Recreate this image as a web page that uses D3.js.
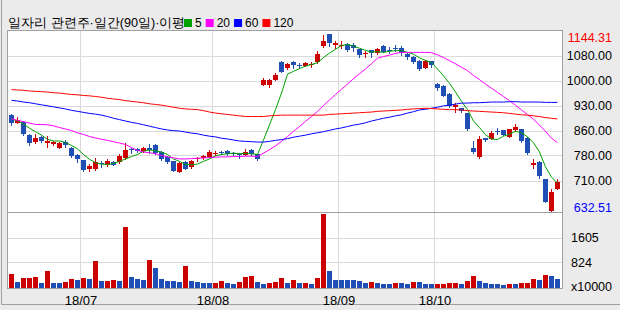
<!DOCTYPE html>
<html>
<head>
<meta charset="utf-8">
<script src="https://cdn.jsdelivr.net/npm/d3@7"></script>
<style>
  html, body { margin: 0; padding: 0; background: #ebebeb; }
  svg { display: block; }
  text { font-family: "Liberation Sans", Arial, sans-serif; }
</style>
</head>
<body>
<div id="chart"></div>
<script>
// daily OHLC, 92 sessions (18/06 .. 18/10)
const open = [909,887,890,851,829,846,829,824,815,832, 815,793,779,752,754,771,764,774,772,784,
  810,811,803,813,822,803,788,776,745,774, 759,781,784,788,798,801,805,800,797,793,
  808,796,996,996,1011,1064,1045,1062,1055,1052, 1052,1061,1110,1144,1110,1110,1115,1112,1101,1086,
  1098,1088,1109,1099,1105,1103,1085,1078,1066,1047, 1066,999,993,970,932,929,914,813,787,842,
  842,863,866,846,866,869,844,764,774,724, 633,697];
const high = [912,905,892,853,855,848,848,835,831,837, 817,795,780,767,784,775,781,776,795,827,
  815,814,817,824,825,805,790,777,773,777, 780,788,793,808,806,806,807,803,798,811,
  811,797,1016,1013,1032,1066,1059,1066,1061,1064, 1064,1095,1140,1144.31,1125,1124,1117,1119,1102,1095,
  1099,1105,1111,1107,1112,1109,1088,1080,1068,1069, 1067,1001,995,972,943,931,916,835,848,844,
  864,871,867,870,882,870,846,781,776,725, 694,724];
const low = [880,886,852,822,828,831,817,822,814,817, 788,774,747,747,751,759,761,764,769,781,
  798,802,802,798,796,780,769,746,744,752, 757,776,782,787,793,796,793,793,784,792,
  793,779,996,991,1010,1034,1044,1047,1047,1051, 1049,1060,1107,1110,1103,1103,1096,1095,1078,1078,
  1078,1086,1091,1089,1096,1083,1073,1061,1040,1045, 1049,982,964,932,919,917,866,798,786,834,
  841,854,850,845,864,830,796,755,726,657, 632.51,695];
const close = [886,895,856,827,842,835,835,830,829,822, 791,781,750,761,774,767,777,766,790,808,
  806,805,813,808,798,784,774,748,771,755, 777,784,790,803,800,799,795,798,795,803,
  796,782,1011,1011,1025,1035,1056,1052,1053,1061, 1056,1085,1124,1117,1117,1112,1098,1103,1083,1090,
  1088,1101,1093,1097,1103,1088,1076,1064,1043,1067, 1054,987,965,934,938,919,868,801,839,835,
  858,859,851,868,875,835,800,769,732,658, 687,716];

// volume, x10000 shares
const volume = [446,191,318,320,350,159,541,159,155,191, 287,255,318,287,860,223,225,255,223,1943,
  350,287,255,892,637,287,223,220,191,700, 223,191,159,155,160,223,159,127,191,350,
  382,191,127,159,191,318,159,255,159,160, 127,318,2357,541,255,250,248,245,223,159,
  191,159,127,125,159,157,127,191,189,127, 125,127,129,159,161,127,223,382,223,159,
  127,125,96,127,125,159,161,287,255,414, 382,287];

// moving averages as drawn
const ma5 = [897,893,883,871,861,851,839,834,834,830, 821,811,795,781,771,767,766,769,775,782,
  789,795,804,808,806,802,795,782,775,766, 765,767,775,782,791,795,797,799,797,798,
  797,795,837,881,925,973,1028,1036,1044,1051, 1056,1061,1076,1089,1100,1111,1114,1109,1103,1097,
  1092,1093,1091,1094,1096,1096,1091,1086,1075,1068, 1061,1043,1023,1001,976,949,925,892,873,852,
  840,838,848,854,862,858,846,829,802,759, 729,712];
const ma20 = [898,894,890,886,882,882,881,878,873,869, 864,858,853,847,843,839,836,832,828,824,
  815,807,802,800,797,792,788,785,782,782, 783,784,785,786,787,788,788,789,789,790,
  790,789,799,809,820,833,847,862,876,891, 905,920,937,953,969,984,999,1015,1029,1043,
  1058,1074,1079,1083,1088,1091,1091,1091,1091,1091, 1090,1084,1076,1067,1058,1048,1038,1024,1012,999,
  987,975,963,951,938,924,911,897,880,862, 842,829];
const ma60 = [952,950,947,945,942,939,936,933,930,927, 923,920,917,914,912,909,905,900,896,892,
  888,885,881,877,873,869,866,864,863,860, 857,855,851,848,846,842,840,837,834,833,
  832,831,831,833,836,838,841,845,848,851, 855,858,861,865,869,872,876,880,883,887,
  892,896,900,903,907,910,915,919,924,926, 929,932,936,938,941,944,944,945,945,946,
  947,947,947,948,948,947,947,947,947,946, 946,946];
const ma120 = [983,982,981,979,978,977,976,974,973,971, 969,968,966,965,963,961,958,956,954,951,
  949,947,945,942,940,938,935,932,929,927, 926,925,922,918,915,913,911,909,907,905,
  905,905,905,907,908,909,909,909,909,909, 909,909,909,911,912,913,914,915,916,917,
  918,920,921,922,923,924,926,927,928,929, 928,927,926,925,925,924,922,921,920,919,
  918,917,916,914,912,910,909,907,905,902, 900,898];

const maLabels = ['5', '20', '60', '120'];
const monthIndex = [12, 34, 55, 71];
const monthLabels = ['18/07', '18/08', '18/09', '18/10'];
const priceGrid = [1081.4, 1008.9, 936.4, 863.9, 792, 719.4];
const priceGridLabels = ['1080.00', '1000.00', '930.00', '860.00', '780.00', '710.00'];
const volumeGrid = [1605, 824];
const volumeGridLabels = ['1605', '824'];
const titleText = '일자리 관련주·일간(90일)·이평';

const UP = '#cc0000', DOWN = '#1f4fb5';
const maColors = ['#00a000', '#ff00ff', '#0000ff', '#ff0000'];
const frame = { left: 7, right: 562, top: 30, split: 212, bottom: 288 };

const svg = d3.select('#chart').append('svg')
  .attr('width', 620)
  .attr('height', 310);

const x = d3.scaleLinear().domain([0, close.length - 1]).range([11.5, 557.5]);
const y = d3.scaleLinear().domain([632.51, 1144.31]).range([210.5, 34]);
const yv = d3.scaleLinear().domain([0, 2420]).range([288, 212]);
const px = v => Math.round(v) + 0.5;

// outer frame
svg.append('path')
  .attr('d', 'M1.5,0V304.5H620')
  .attr('fill', 'none')
  .attr('stroke', '#a0a0a0');

// plot panel
svg.append('rect')
  .attr('x', frame.left + 0.5).attr('y', frame.top + 0.5)
  .attr('width', frame.right - frame.left).attr('height', frame.bottom - frame.top)
  .attr('fill', '#fff');

const grid = svg.append('g').attr('stroke', '#dadada').attr('shape-rendering', 'crispEdges');
grid.selectAll('line.py').data(priceGrid).join('line')
  .attr('x1', frame.left).attr('x2', frame.right)
  .attr('y1', d => px(y(d))).attr('y2', d => px(y(d)));
grid.selectAll('line.vy').data(volumeGrid).join('line')
  .attr('x1', frame.left).attr('x2', frame.right)
  .attr('y1', d => px(yv(d))).attr('y2', d => px(yv(d)));
grid.selectAll('line.mx').data(monthIndex).join('line')
  .attr('x1', d => px(x(d) - 3.5)).attr('x2', d => px(x(d) - 3.5))
  .attr('y1', frame.top).attr('y2', frame.bottom);

svg.append('rect')
  .attr('x', frame.left + 0.5).attr('y', frame.top + 0.5)
  .attr('width', frame.right - frame.left).attr('height', frame.bottom - frame.top)
  .attr('fill', 'none').attr('stroke', '#a0a0a0')
  .attr('shape-rendering', 'crispEdges');
svg.append('line')
  .attr('x1', frame.left).attr('x2', frame.right)
  .attr('y1', frame.split + 0.5).attr('y2', frame.split + 0.5)
  .attr('stroke', '#a0a0a0').attr('shape-rendering', 'crispEdges');

// volume bars, red when volume rises from the day before
svg.append('g').attr('shape-rendering', 'crispEdges')
  .selectAll('rect').data(volume).join('rect')
  .attr('x', (d, i) => x(i) - 2.5)
  .attr('width', 5)
  .attr('y', d => Math.round(yv(d)))
  .attr('height', d => frame.bottom - Math.round(yv(d)))
  .attr('fill', (d, i) => i === 0 || d > volume[i - 1] ? UP : DOWN);

// candles
const idx = d3.range(close.length);
const candle = svg.append('g').attr('shape-rendering', 'crispEdges')
  .selectAll('g').data(idx).join('g')
  .attr('fill', i => close[i] >= open[i] ? UP : DOWN)
  .attr('stroke', i => close[i] >= open[i] ? UP : DOWN);

candle.append('line')
  .attr('x1', i => x(i)).attr('x2', i => x(i))
  .attr('y1', i => Math.round(y(high[i]))).attr('y2', i => Math.round(y(low[i])) + 1);

candle.append('rect')
  .attr('stroke', 'none')
  .attr('x', i => x(i) - 2.5)
  .attr('width', 5)
  .attr('y', i => Math.round(y(Math.max(open[i], close[i]))))
  .attr('height', i => Math.max(1, Math.round(Math.abs(y(open[i]) - y(close[i])))));

// moving average lines
const line = d3.line().x((d, i) => x(i)).y(d => y(d));
[ma5, ma20, ma60, ma120].forEach((s, k) => {
  svg.append('path')
    .datum(s)
    .attr('d', line)
    .attr('fill', 'none')
    .attr('stroke', maColors[k])
    .attr('stroke-width', 1);
});

// right axis labels
const axis = svg.append('g').attr('font-size', 12.5).attr('fill', '#000');
axis.selectAll('text.p').data(priceGrid).join('text')
  .attr('x', 612).attr('y', d => y(d)).attr('dy', '0.36em')
  .attr('text-anchor', 'end')
  .text((d, i) => priceGridLabels[i]);
axis.append('text')
  .attr('x', 612).attr('y', y(d3.max(high)) + 3).attr('dy', '0.36em')
  .attr('text-anchor', 'end').attr('fill', '#ff0000')
  .text(d3.max(high).toFixed(2));
axis.append('text')
  .attr('x', 612).attr('y', y(d3.min(low)) - 3).attr('dy', '0.36em')
  .attr('text-anchor', 'end').attr('fill', '#0000ff')
  .text(d3.min(low).toFixed(2));
axis.selectAll('text.v').data(volumeGrid).join('text')
  .attr('x', 571).attr('y', d => yv(d)).attr('dy', '0.36em')
  .text((d, i) => volumeGridLabels[i]);
axis.append('text')
  .attr('x', 612).attr('y', 286).attr('dy', '0.36em')
  .attr('text-anchor', 'end')
  .text('x10000');

// month labels
axis.selectAll('text.m').data(monthIndex).join('text')
  .attr('x', d => x(d) - 2.5).attr('y', 300).attr('dy', '0.36em')
  .attr('text-anchor', 'middle')
  .attr('font-size', 13)
  .text((d, i) => monthLabels[i]);

// title: sized so it spans the same width as the original header
const title = svg.append('text')
  .attr('x', 8).attr('y', 27)
  .attr('font-family', '"Noto Sans CJK KR", sans-serif')
  .attr('font-size', 13)
  .attr('fill', '#000')
  .text(titleText);
const natural = title.node().getComputedTextLength();
title.attr('font-size', 13 * 174 / natural);

let lx = 184;
maLabels.forEach((lab, k) => {
  svg.append('rect')
    .attr('x', lx).attr('y', 19).attr('width', 8).attr('height', 8)
    .attr('fill', maColors[k]);
  const t = svg.append('text')
    .attr('x', lx + 11).attr('y', 27)
    .attr('font-size', 12).attr('fill', '#000')
    .text(lab);
  lx += 11 + t.node().getComputedTextLength() + 4;
});
</script>
</body>
</html>
